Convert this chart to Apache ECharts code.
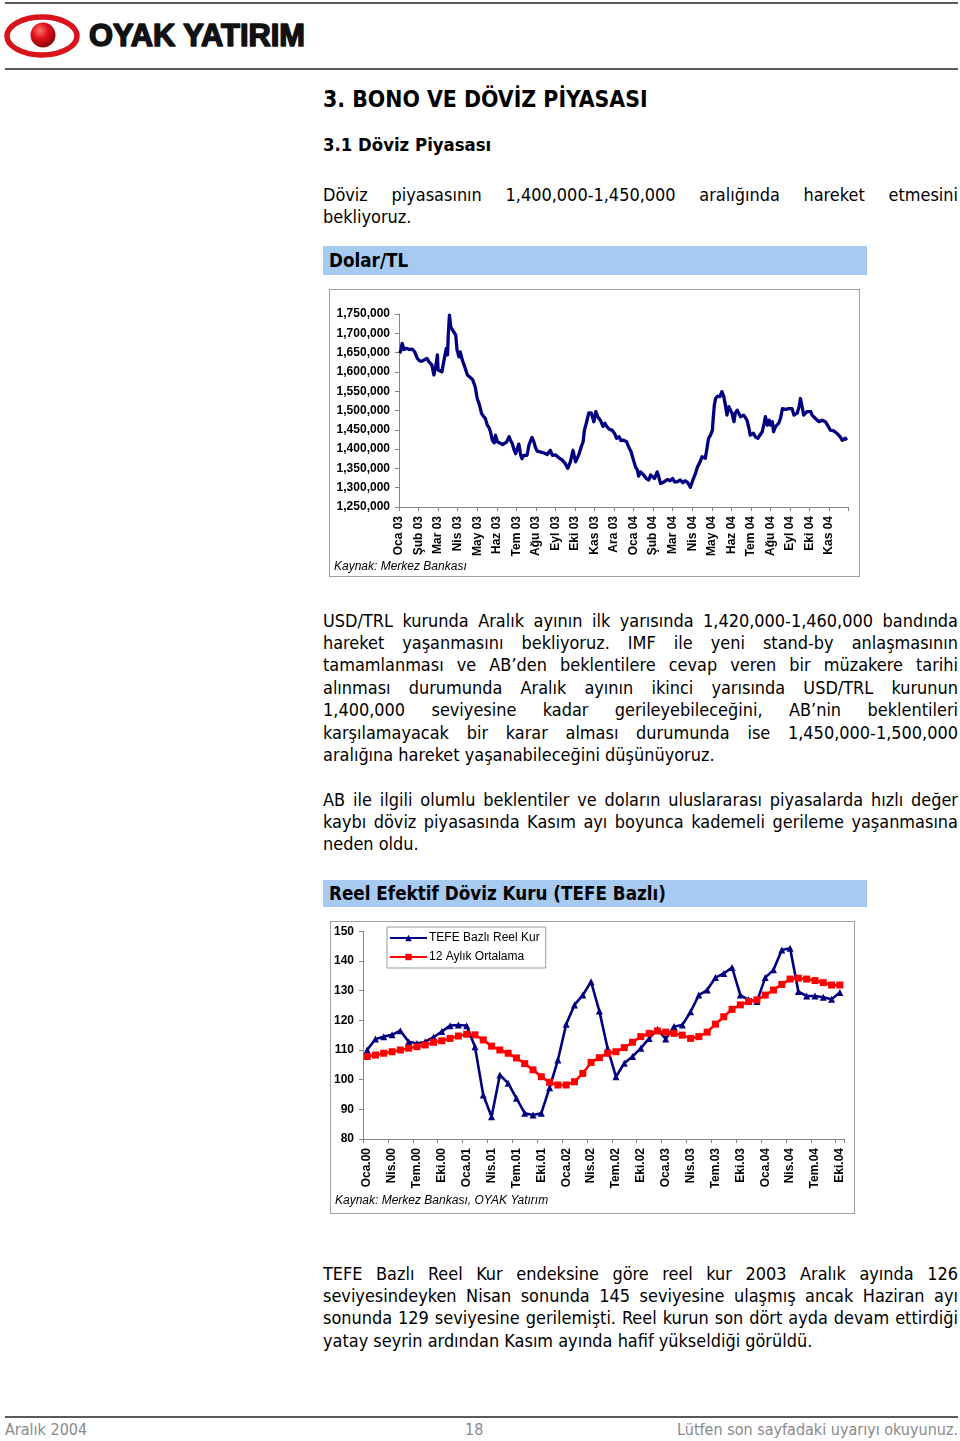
<!DOCTYPE html>
<html><head><meta charset="utf-8">
<script src="https://cdn.jsdelivr.net/npm/echarts@6/dist/echarts.min.js"></script>
<style>
html,body{margin:0;padding:0;background:#fff;}
body{width:960px;height:1441px;position:relative;overflow:hidden;font-family:"DejaVu Sans Condensed","DejaVu Sans",sans-serif;font-stretch:condensed;color:#000;}
.abs{position:absolute;}
.hr{position:absolute;left:5px;width:953px;height:2px;background:#5a5a5a;}
.p{position:absolute;left:323px;width:635px;font-size:17.95px;line-height:22.4px;}
.p div{text-align:justify;text-align-last:justify;}
.p div.last{text-align-last:left;}
.box{position:absolute;left:323px;width:544px;background:#a6caf0;font-weight:bold;font-size:18.7px;box-sizing:border-box;padding-left:6px;display:flex;align-items:center;}
.frame{position:absolute;border:1px solid #a0a0a0;background:#fff;box-sizing:border-box;}
.h{position:absolute;left:323px;font-weight:bold;line-height:1;white-space:nowrap;}
.foot{position:absolute;top:1421px;font-size:16px;color:#8a8a8a;line-height:18px;white-space:nowrap;}
</style>
</head>
<body>
<div class="hr" style="top:2px"></div>
<svg class="abs" style="left:0;top:0" width="320" height="68">
  <defs>
    <radialGradient id="ball" cx="38%" cy="32%" r="70%">
      <stop offset="0" stop-color="#ff7a6a"/>
      <stop offset="0.45" stop-color="#e2121c"/>
      <stop offset="1" stop-color="#8c0008"/>
    </radialGradient>
  </defs>
  <ellipse cx="42" cy="36" rx="35" ry="19" fill="none" stroke="#d8131b" stroke-width="5.5"/>
  <circle cx="43" cy="35" r="12.5" fill="url(#ball)"/>
  <text x="89" y="46" font-family="Liberation Sans, Arial" font-weight="bold" font-size="32" textLength="216" lengthAdjust="spacingAndGlyphs" fill="#111" stroke="#111" stroke-width="1.6" stroke-linejoin="round">OYAK YATIRIM</text>
</svg>
<div class="hr" style="top:68px"></div>

<div class="h" style="top:87.5px;font-size:22.8px">3. BONO VE DÖVİZ PİYASASI</div>
<div class="h" style="top:136px;font-size:18.4px">3.1 Döviz Piyasası</div>

<div class="p" style="top:183.5px">
  <div>Döviz piyasasının 1,400,000-1,450,000 aralığında hareket etmesini</div>
  <div class="last">bekliyoruz.</div>
</div>

<div class="box" style="top:246px;height:29px">Dolar/TL</div>
<div class="frame" style="left:329px;top:289px;width:531px;height:288px"><div id="c1" style="width:529px;height:286px"></div></div>

<div class="p" style="top:609.5px">
  <div>USD/TRL kurunda Aralık ayının ilk yarısında 1,420,000-1,460,000 bandında</div>
  <div>hareket yaşanmasını bekliyoruz. IMF ile yeni stand-by anlaşmasının</div>
  <div>tamamlanması ve AB’den beklentilere cevap veren bir müzakere tarihi</div>
  <div>alınması durumunda Aralık ayının ikinci yarısında USD/TRL kurunun</div>
  <div>1,400,000 seviyesine kadar gerileyebileceğini, AB’nin beklentileri</div>
  <div>karşılamayacak bir karar alması durumunda ise 1,450,000-1,500,000</div>
  <div class="last">aralığına hareket yaşanabileceğini düşünüyoruz.</div>
</div>

<div class="p" style="top:788.5px">
  <div>AB ile ilgili olumlu beklentiler ve doların uluslararası piyasalarda hızlı değer</div>
  <div>kaybı döviz piyasasında Kasım ayı boyunca kademeli gerileme yaşanmasına</div>
  <div class="last">neden oldu.</div>
</div>

<div class="box" style="top:880px;height:27px">Reel Efektif Döviz Kuru (TEFE Bazlı)</div>
<div class="frame" style="left:330px;top:921px;width:525px;height:293px"><div id="c2" style="width:523px;height:291px"></div></div>

<div class="p" style="top:1262.5px">
  <div>TEFE Bazlı Reel Kur endeksine göre reel kur 2003 Aralık ayında 126</div>
  <div>seviyesindeyken Nisan sonunda 145 seviyesine ulaşmış ancak Haziran ayı</div>
  <div>sonunda 129 seviyesine gerilemişti. Reel kurun son dört ayda devam ettirdiği</div>
  <div class="last">yatay seyrin ardından Kasım ayında hafif yükseldiği görüldü.</div>
</div>

<div class="hr" style="top:1416px"></div>
<div class="foot" style="left:5px">Aralık 2004</div>
<div class="foot" style="left:465px">18</div>
<div class="foot" style="right:2px">Lütfen son sayfadaki uyarıyı okuyunuz.</div>

<script>
// ---------- Chart 1 data: Dolar/TL (Merkez Bankası) ----------
const usdAxisLabels = ['Oca 03','Şub 03','Mar 03','Nis 03','May 03','Haz 03','Tem 03','Ağu 03','Eyl 03','Eki 03','Kas 03','Ara 03',
  'Oca 04','Şub 04','Mar 04','Nis 04','May 04','Haz 04','Tem 04','Ağu 04','Eyl 04','Eki 04','Kas 04'];
const usdDates = [
 '2003-01-02','2003-01-04','2003-01-06','2003-01-09','2003-01-13','2003-01-17','2003-01-19','2003-01-22','2003-01-26','2003-01-30',
 '2003-02-03','2003-02-06','2003-02-10','2003-02-13','2003-02-16','2003-02-20','2003-02-23','2003-02-26','2003-02-28',
 '2003-03-01','2003-03-04','2003-03-07','2003-03-09','2003-03-12','2003-03-14','2003-03-16','2003-03-17','2003-03-19','2003-03-21','2003-03-24','2003-03-26','2003-03-29','2003-03-31',
 '2003-04-03','2003-04-05','2003-04-08','2003-04-12','2003-04-16','2003-04-20','2003-04-24','2003-04-28',
 '2003-05-01','2003-05-04','2003-05-08','2003-05-11','2003-05-14','2003-05-17','2003-05-20','2003-05-22','2003-05-25','2003-05-28','2003-05-30',
 '2003-06-02','2003-06-04','2003-06-10','2003-06-12','2003-06-16','2003-06-20','2003-06-22','2003-06-25','2003-06-27','2003-06-30',
 '2003-07-02','2003-07-05','2003-07-08','2003-07-10','2003-07-13','2003-07-16','2003-07-18','2003-07-21','2003-07-24','2003-07-26','2003-07-29','2003-07-31',
 '2003-08-03','2003-08-08','2003-08-14','2003-08-19','2003-08-24','2003-08-27',
 '2003-09-01','2003-09-06','2003-09-11','2003-09-16','2003-09-20','2003-09-24','2003-09-28',
 '2003-10-02','2003-10-04','2003-10-07','2003-10-11','2003-10-14','2003-10-16','2003-10-19','2003-10-23','2003-10-27','2003-10-31',
 '2003-11-03','2003-11-06','2003-11-10','2003-11-14','2003-11-17','2003-11-20','2003-11-24','2003-11-28',
 '2003-12-02','2003-12-05','2003-12-09','2003-12-12','2003-12-16','2003-12-21','2003-12-24','2003-12-28','2003-12-31',
 '2004-01-04','2004-01-07','2004-01-09','2004-01-12','2004-01-14','2004-01-17','2004-01-21','2004-01-25','2004-01-28','2004-01-30',
 '2004-02-03','2004-02-07','2004-02-09','2004-02-12','2004-02-17','2004-02-22','2004-02-26',
 '2004-03-01','2004-03-04','2004-03-08','2004-03-13','2004-03-17','2004-03-21','2004-03-25','2004-03-29',
 '2004-04-02','2004-04-06','2004-04-09','2004-04-12','2004-04-16','2004-04-21','2004-04-24','2004-04-26','2004-04-29',
 '2004-05-02','2004-05-03','2004-05-05','2004-05-07','2004-05-10','2004-05-14','2004-05-17','2004-05-20','2004-05-23','2004-05-25','2004-05-28','2004-05-31',
 '2004-06-02','2004-06-05','2004-06-07','2004-06-10','2004-06-13','2004-06-15','2004-06-18','2004-06-20','2004-06-23','2004-06-25','2004-06-28','2004-06-30',
 '2004-07-05','2004-07-08','2004-07-12','2004-07-15','2004-07-19','2004-07-22','2004-07-24','2004-07-27','2004-07-30',
 '2004-08-01','2004-08-04','2004-08-06','2004-08-09','2004-08-12','2004-08-14','2004-08-17','2004-08-20','2004-08-22','2004-08-25','2004-08-28','2004-08-30',
 '2004-09-02','2004-09-04','2004-09-07','2004-09-09','2004-09-12','2004-09-15','2004-09-17','2004-09-20','2004-09-22','2004-09-25','2004-09-27','2004-09-30',
 '2004-10-03','2004-10-05','2004-10-08','2004-10-10','2004-10-13','2004-10-16','2004-10-18','2004-10-21','2004-10-24','2004-10-26','2004-10-29','2004-10-31',
 '2004-11-03','2004-11-05','2004-11-08','2004-11-11','2004-11-13','2004-11-16','2004-11-18','2004-11-21','2004-11-23','2004-11-26','2004-11-28'
];
const usdRates = [
 1648000,1656000,1674000,1658000,1661000,1658000,1655000,1659000,1652000,1635000,
 1628000,1628000,1632000,1635000,1626000,1618000,1592000,1618000,1644000,
 1605000,1605000,1600000,1618000,1644000,1661000,1644000,1691000,1747000,1717000,1708000,1704000,1695000,1657000,
 1639000,1652000,1631000,1613000,1592000,1586000,1580000,1561000,
 1531000,1518000,1492000,1485000,1479000,1462000,1455000,1445000,1423000,1416000,1436000,
 1419000,1414000,1412000,1410000,1418000,1432000,1423000,1414000,1401000,1388000,
 1393000,1413000,1384000,1375000,1384000,1387000,1384000,1410000,1423000,1430000,1418000,1406000,
 1395000,1393000,1390000,1386000,1397000,1384000,
 1385000,1378000,1372000,1363000,1350000,1367000,1397000,
 1367000,1363000,1385000,1406000,1419000,1449000,1467000,1494000,1493000,1471000,
 1497000,1484000,1475000,1459000,1467000,1458000,1451000,1449000,
 1440000,1428000,1432000,1422000,1423000,1419000,1406000,1393000,1376000,
 1354000,1346000,1330000,1341000,1346000,1333000,1324000,1320000,1333000,1337000,
 1324000,1341000,1330000,1311000,1315000,1321000,1318000,
 1324000,1315000,1315000,1320000,1313000,1318000,1313000,1301000,
 1320000,1337000,1354000,1363000,1380000,1376000,1406000,1428000,1436000,
 1449000,1475000,1514000,1531000,1537000,1536000,1549000,1536000,1510000,1488000,1510000,1514000,
 1493000,1471000,1493000,1501000,1497000,1484000,1484000,1488000,1484000,1475000,1454000,1436000,
 1441000,1432000,1428000,1423000,1445000,1467000,1484000,1462000,1475000,
 1462000,1471000,1445000,1458000,1454000,1467000,1480000,1505000,1501000,1503000,1501000,1505000,
 1503000,1505000,1488000,1493000,1493000,1510000,1531000,1506000,1488000,1493000,1497000,1501000,
 1497000,1488000,1484000,1480000,1475000,1471000,1467000,1475000,1471000,1471000,1467000,1458000,
 1449000,1449000,1447000,1445000,1441000,1439000,1432000,1423000,1422000,1428000,1423000
];

// ---------- Chart 2 data: Reel Efektif Döviz Kuru ----------
const trMonths = ['Oca','Şub','Mar','Nis','May','Haz','Tem','Ağu','Eyl','Eki','Kas','Ara'];
const reelYears = ['00','01','02','03','04'];
const tefeReelKur = [
 110.0,113.7,114.5,115.1,116.5,112.8,112.2,112.8,114.3,116.2,118.2,118.4,
 118.2,111.1,94.8,87.5,101.6,98.8,93.7,88.7,88.1,88.7,97.3,106.6,
 118.7,125.2,128.5,133.0,123.1,110.5,101.0,105.5,107.8,110.6,113.9,117.0,
 113.7,117.9,118.4,122.9,128.5,130.2,134.4,135.8,137.8,128.5,126.9,126.3,
 134.4,137.0,143.7,144.3,129.7,128.2,128.2,127.8,127.1,129.4
];
const ortalama12 = [
 107.8,108.3,108.9,109.4,110.0,110.6,111.1,111.7,112.6,113.1,113.9,114.7,
 115.3,115.1,113.4,111.3,110.0,108.9,107.3,105.4,103.3,101.0,99.1,98.2,
 98.2,99.3,102.1,105.8,107.4,108.9,109.4,110.8,112.6,114.5,115.6,116.4,
 116.0,115.6,115.0,113.9,114.5,116.0,118.7,121.2,123.7,125.2,126.3,126.9,
 128.5,130.2,132.1,133.9,134.2,133.9,133.4,132.7,131.9,131.9
];
const reelCategories = [];
reelYears.forEach(y => trMonths.forEach(m => reelCategories.push(m + '.' + y)));
reelCategories.length = tefeReelKur.length;

// ---------- helpers ----------
function monthPos(s) {
  const p = s.split('-').map(Number);
  const dim = new Date(p[0], p[1], 0).getDate();
  return (p[0] - 2003) * 12 + (p[1] - 1) + (p[2] - 1) / dim;
}
const FONT = "'Liberation Sans', Arial, sans-serif";
const axisGray = '#868686';

// ---------- Chart 1 ----------
const c1 = echarts.init(document.getElementById('c1'));
c1.setOption({
  animation: false,
  grid: { left: 69, top: 24, width: 449.65, height: 193 },
  xAxis: {
    type: 'value', min: 0, max: 23, interval: 1,
    axisLine: { show: true, onZero: false, lineStyle: { color: axisGray, width: 1 } },
    axisTick: { show: true, length: 4, lineStyle: { color: axisGray } },
    splitLine: { show: false },
    axisLabel: { rotate: 90, margin: 9, fontFamily: FONT, fontSize: 12, fontWeight: 'bold', color: '#000',
      formatter: v => usdAxisLabels[v] || '' }
  },
  yAxis: {
    type: 'value', min: 1250000, max: 1750000, interval: 50000,
    axisLine: { show: true, lineStyle: { color: axisGray, width: 1 } },
    axisTick: { show: true, length: 4, lineStyle: { color: axisGray } },
    splitLine: { show: false },
    axisLabel: { margin: 9, fontFamily: FONT, fontSize: 12, fontWeight: 'bold', color: '#000',
      formatter: v => v.toLocaleString('en-US') }
  },
  series: [{
    type: 'line', showSymbol: false, symbol: 'none',
    data: usdDates.map((d, i) => [monthPos(d), usdRates[i]]),
    lineStyle: { color: '#000080', width: 3.3, join: 'round' }
  }],
  graphic: [{ type: 'text', left: 4, top: 271,
    style: { text: 'Kaynak: Merkez Bankası', font: "italic 12px 'Liberation Sans', Arial", fill: '#000' } }]
});

// ---------- Chart 2 ----------
const c2 = echarts.init(document.getElementById('c2'));
c2.setOption({
  animation: false,
  grid: { left: 31, top: 9.3, width: 482, height: 207.7 },
  legend: {
    orient: 'vertical', left: 56, top: 5,
    data: ['TEFE Bazlı Reel Kur', '12 Aylık Ortalama'],
    itemWidth: 37, itemHeight: 8, itemGap: 7,
    backgroundColor: '#fff', borderColor: '#9a9a9a', borderWidth: 1, borderRadius: 0,
    padding: [5, 6, 5, 2],
    textStyle: { fontFamily: FONT, fontSize: 12, color: '#000', padding: [0, 0, 0, -3] }
  },
  xAxis: {
    type: 'category', data: reelCategories, boundaryGap: true,
    axisLine: { lineStyle: { color: axisGray, width: 1 } },
    axisTick: { show: true, interval: 2, length: 4, lineStyle: { color: axisGray } },
    axisLabel: { interval: 2, rotate: 90, margin: 9, fontFamily: FONT, fontSize: 12, fontWeight: 'bold', color: '#000' }
  },
  yAxis: {
    type: 'value', min: 80, max: 150, interval: 10,
    axisLine: { show: true, lineStyle: { color: axisGray, width: 1 } },
    axisTick: { show: true, length: 4, lineStyle: { color: axisGray } },
    splitLine: { show: false },
    axisLabel: { margin: 9, fontFamily: FONT, fontSize: 12, fontWeight: 'bold', color: '#000' }
  },
  series: [
    { name: 'TEFE Bazlı Reel Kur', type: 'line', data: tefeReelKur,
      symbol: 'triangle', symbolSize: 7, showAllSymbol: true,
      itemStyle: { color: '#000080' }, lineStyle: { color: '#000080', width: 2.6 } },
    { name: '12 Aylık Ortalama', type: 'line', data: ortalama12,
      symbol: 'rect', symbolSize: 7, showAllSymbol: true,
      itemStyle: { color: '#ff0000' }, lineStyle: { color: '#ff0000', width: 2.6 } }
  ],
  graphic: [{ type: 'text', left: 4, top: 273,
    style: { text: 'Kaynak: Merkez Bankası, OYAK Yatırım', font: "italic 12px 'Liberation Sans', Arial", fill: '#000' } }]
});
</script>
</body></html>
